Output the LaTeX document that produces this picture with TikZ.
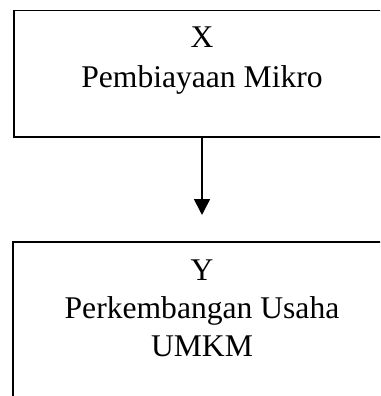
\documentclass[tikz,border=0pt]{standalone}
\usepackage{fontspec}
\setmainfont{Liberation Serif}
\usetikzlibrary{arrows.meta}
\begin{document}
\begin{tikzpicture}[x=1pt,y=-1pt,
  boxstyle/.style={draw=black,line width=1.6pt,rectangle,inner sep=0pt},
  txt/.style={anchor=base,inner sep=0pt,font=\fontsize{31.6}{38}\selectfont},
  conn/.style={line width=1.6pt,-{Triangle[length=16pt,width=16pt]}}]
\useasboundingbox (0,0) rectangle (380,396);
\clip (0,0) rectangle (380,396);
\node[boxstyle,minimum width=376pt,minimum height=126.5pt] (topbox) at (202,73.6) {};
\node[boxstyle,minimum width=378pt,minimum height=200pt] (botbox) at (202,341.7) {};
\node[txt] (xl) at (202,48) {X};
\node[txt] (xt) at (202,87) {Pembiayaan Mikro};
\node[txt] (yl) at (202,280) {Y};
\node[txt] (yt1) at (202,318) {Perkembangan Usaha};
\node[txt] (yt2) at (202,356) {UMKM};
\coordinate (tip) at (202,215);
\draw[conn] (topbox.south) -- (tip);
\end{tikzpicture}
\end{document}
